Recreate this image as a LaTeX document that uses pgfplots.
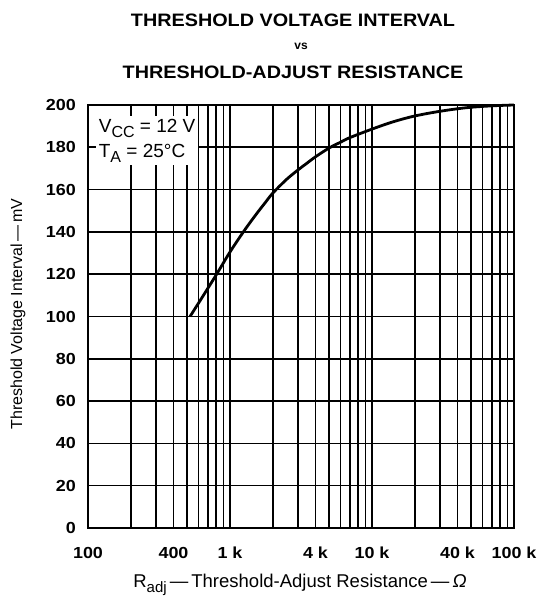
\documentclass[border=0pt]{standalone}
\usepackage{fontspec}
\setmainfont{Liberation Sans}
\usepackage{pgfplots}
\pgfplotsset{compat=1.18}
\newcommand{\tl}[1]{\scalebox{1.12}[1]{#1}}
\begin{document}
\begin{tikzpicture}[x=1pt,y=1pt]
\useasboundingbox (0,0) rectangle (544,601);
\begin{axis}[
  at={(88pt,73pt)}, anchor=south west,
  scale only axis, width=426pt, height=423pt,
  xmode=log, log basis x=10,
  xmin=100, xmax=100000, ymin=0, ymax=200,
  xtick={100,200,300,400,500,600,700,800,900,1000,2000,3000,4000,5000,6000,7000,8000,9000,10000,20000,30000,40000,50000,60000,70000,80000,90000,100000},
  xticklabels={\tl{100},,,\tl{400},,,,,,\tl{1 k},,,\tl{4 k},,,,,,\tl{10 k},,,\tl{40 k},,,,,,\tl{100 k}},
  ytick={0,20,40,60,80,100,120,140,160,180,200},
  yticklabels={\tl{0},\tl{20},\tl{40},\tl{60},\tl{80},\tl{100},\tl{120},\tl{140},\tl{160},\tl{180},\tl{200}},
  xmajorgrids, ymajorgrids,
  major grid style={black, line width=1.6pt},
  axis line style={black, line width=2.6pt},
  major tick length=0pt, minor tick length=0pt,
  tick style={draw=none},
  every x tick label/.append style={font=\fontsize{16}{18}\selectfont\bfseries, anchor=base, inner sep=0pt, yshift=-30.5pt},
  every y tick label/.append style={font=\fontsize{16}{18}\selectfont\bfseries, anchor=east, inner sep=0pt, xshift=-12pt},
  clip=false,
]
\addplot[black, line width=2.8pt, smooth, tension=0.55] coordinates {
 (523,100) (650,110) (805,120) (1000,130.5) (1242,140) (1500,147.6) (1750,153.4)
 (2000,158.3) (2500,164.8) (3000,169.2) (3500,172.6) (4000,175.5) (5000,179.7)
 (6000,182.4) (7000,184.6) (10000,188.6) (14000,192) (20000,194.8) (30000,197)
 (46000,198.7) (70000,199.6) (100000,200)
};
\node[fill=white, anchor=north west, align=left, inner sep=3pt,
      font=\fontsize{19}{25}\selectfont]
  at (rel axis cs:0.018,0.975)
  {V\raisebox{-0.28em}{\fontsize{16}{16}\selectfont CC} = 12 V\\
   T\raisebox{-0.28em}{\fontsize{16}{16}\selectfont A} = 25°C};
\end{axis}
\node[font=\fontsize{18}{20}\selectfont\bfseries, xscale=1.1, transform shape] at (293,581) {THRESHOLD VOLTAGE INTERVAL};
\node[font=\fontsize{12}{14}\selectfont\bfseries] at (301,555) {vs};
\node[font=\fontsize{18}{20}\selectfont\bfseries, xscale=1.1, transform shape] at (293,529) {THRESHOLD-ADJUST RESISTANCE};
\node[rotate=90, font=\fontsize{16}{18}\selectfont] at (18,287) {Threshold Voltage Interval\,—\,mV};
\node[font=\fontsize{18.5}{20}\selectfont] at (300,16) {R\raisebox{-0.3em}{\fontsize{15}{15}\selectfont adj}\,—\,Threshold-Adjust Resistance\,—\,\textit{Ω}};
\end{tikzpicture}
\end{document}
